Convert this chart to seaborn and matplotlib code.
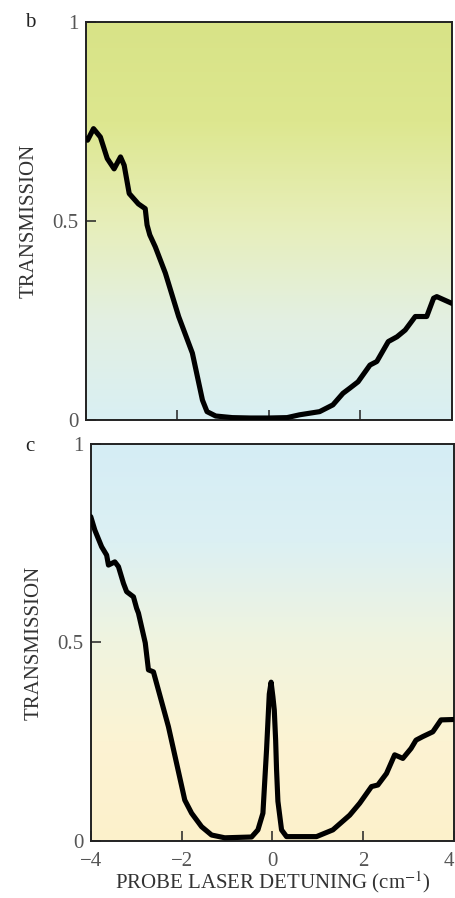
import numpy as np
import matplotlib
matplotlib.use("Agg")
import matplotlib.pyplot as plt
from matplotlib.colors import to_rgb
import seaborn as sns

# ============================
# Data
# ============================
b_x = [-4.0, -3.96, -3.83, -3.68, -3.53, -3.38, -3.24, -3.16, -3.05, -2.85,
       -2.70, -2.66, -2.60, -2.48, -2.26, -1.97, -1.67, -1.45, -1.35, -1.16,
       -0.80, -0.40, 0.0, 0.40, 0.67, 1.11, 1.40, 1.62, 1.77, 1.95,
       2.21, 2.36, 2.61, 2.80, 2.98, 3.09, 3.20, 3.45, 3.60, 3.67, 4.0]
b_y = [0.707, 0.703, 0.732, 0.711, 0.657, 0.631, 0.661, 0.640, 0.569, 0.543,
       0.531, 0.490, 0.465, 0.435, 0.369, 0.260, 0.168, 0.050, 0.021, 0.010,
       0.006, 0.005, 0.005, 0.006, 0.013, 0.021, 0.038, 0.067, 0.080, 0.096,
       0.138, 0.147, 0.197, 0.209, 0.226, 0.243, 0.260, 0.260, 0.306, 0.310, 0.293]

c_x = [-4.0, -3.91, -3.76, -3.65, -3.61, -3.47, -3.39, -3.28, -3.21, -3.06,
       -2.99, -2.95, -2.80, -2.73, -2.62, -2.29, -1.93, -1.78, -1.56, -1.34,
       -1.05, -0.46, -0.32, -0.21, -0.17, -0.13, -0.10, -0.07, -0.03, 0.01,
       0.04, 0.07, 0.09, 0.12, 0.20, 0.31, 0.97, 1.33, 1.70, 1.92,
       2.18, 2.32, 2.51, 2.69, 2.87, 3.05, 3.16, 3.31, 3.53, 3.71, 4.0]
c_y = [0.817, 0.783, 0.741, 0.720, 0.695, 0.703, 0.691, 0.649, 0.628, 0.615,
       0.586, 0.574, 0.499, 0.431, 0.426, 0.288, 0.103, 0.070, 0.036, 0.015,
       0.008, 0.010, 0.028, 0.070, 0.150, 0.230, 0.300, 0.370, 0.400, 0.363,
       0.330, 0.254, 0.180, 0.100, 0.028, 0.011, 0.011, 0.028, 0.065, 0.095,
       0.137, 0.141, 0.170, 0.217, 0.208, 0.233, 0.254, 0.263, 0.275, 0.305, 0.306]

x_ticks = [-4, -2, 0, 2, 4]
x_labels = ["\u22124", "\u22122", "0", "2", "4"]
y_ticks = [0, 0.5, 1]
y_labels = ["0", "0.5", "1"]

sns.set_style("ticks")
plt.rcParams["font.family"] = ["Liberation Serif", "DejaVu Serif"]
plt.rcParams["mathtext.fontset"] = "stix"

fig = plt.figure(figsize=(4.56, 8.98), dpi=100)
ax_b = fig.add_axes([0.188, 0.5323, 0.803, 0.4432])
ax_c = fig.add_axes([0.199, 0.0635, 0.797, 0.4421])


def gradient(ax, stops):
    # vertical colour gradient, stops listed from top to bottom
    n = 200
    pos = np.linspace(0, 1, len(stops))
    t = np.linspace(0, 1, n)
    cols = np.array([to_rgb(s) for s in stops])
    img = np.stack([np.interp(t, pos, cols[:, k]) for k in range(3)], axis=1)
    img = img[:, None, :]
    ax.imshow(img, extent=[-4, 4, 0, 1], aspect="auto", zorder=0,
              interpolation="bilinear")


gradient(ax_b, ["#d8e387", "#dde78f", "#e7eeb9", "#e3f0e2", "#d9eff3"])
gradient(ax_c, ["#d5edf5", "#dcf0f3", "#f0f4df", "#fcf3d3", "#fdf1cb"])

sns.lineplot(x=b_x, y=b_y, ax=ax_b, color="black", lw=3.7, zorder=3,
             solid_joinstyle="round", solid_capstyle="round")
sns.lineplot(x=c_x, y=c_y, ax=ax_c, color="black", lw=3.7, zorder=3,
             solid_joinstyle="round", solid_capstyle="round")

for ax in (ax_b, ax_c):
    ax.set_xlim(-4, 4)
    ax.set_ylim(0, 1)
    ax.set_xticks(x_ticks)
    ax.set_yticks(y_ticks)
    ax.set_yticklabels(y_labels)
    ax.tick_params(direction="in", length=7, width=1.1, colors="#222222",
                   labelcolor="#555555", labelsize=15, pad=5)
    ax.tick_params(axis="x", pad=8)
    for sp in ax.spines.values():
        sp.set_linewidth(1.4)
        sp.set_color("#222222")
    ax.set_ylabel("TRANSMISSION", fontsize=15, color="#333333", labelpad=10)

ax_b.set_xticklabels([])
ax_c.set_xticklabels(x_labels)
ax_c.get_xticklabels()[-1].set_horizontalalignment("right")
ax_c.set_xlabel("PROBE LASER DETUNING (cm$^{-1}$)", fontsize=15,
                color="#333333", labelpad=-1)

fig.text(0.055, 0.975, "b", fontsize=15, color="#222222", va="center")
fig.text(0.055, 0.503, "c", fontsize=15, color="#222222", va="center")

fig.savefig("out.png", dpi=100)
